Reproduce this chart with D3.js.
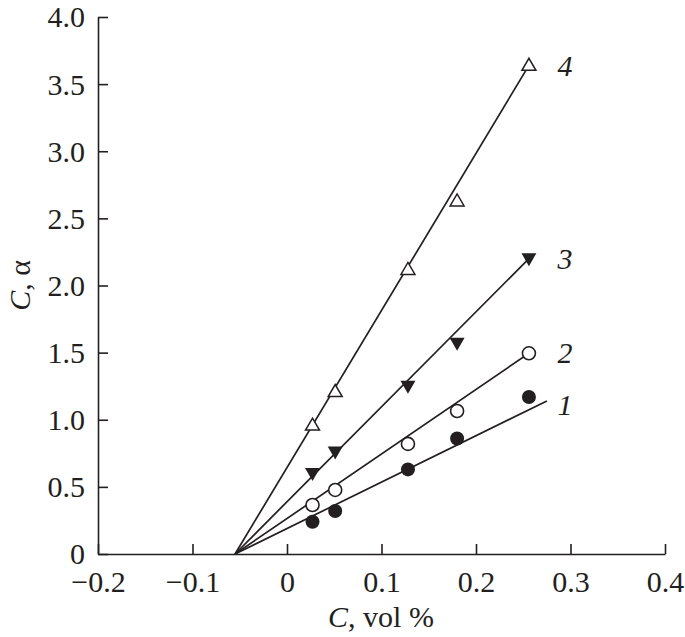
<!DOCTYPE html>
<html>
<head>
<meta charset="utf-8">
<script src="https://cdn.jsdelivr.net/npm/d3@7"></script>
<style>
  body { margin: 0; background: #fff; }
  text { font-family: "Liberation Serif", "DejaVu Serif", serif; fill: #231f20; }
</style>
</head>
<body>
<div id="chart"></div>
<script>
// concentrations, vol %
var conc = [0.027, 0.051, 0.128, 0.18, 0.256];
// series values (C, alpha)
var series1 = [0.24, 0.32, 0.63, 0.86, 1.17];
var series2 = [0.365, 0.477, 0.82, 1.065, 1.495];
var series3 = [0.60, 0.76, 1.25, 1.57, 2.20];
var series4 = [0.96, 1.21, 2.12, 2.63, 3.64];
var seriesLabels = ["1", "2", "3", "4"];
// fitted lines: common x-intercept, end point of each line
var xIntercept = -0.055;
var lineEndX = [0.275, 0.256, 0.256, 0.256];
var lineEndY = [1.14, 1.495, 2.20, 3.64];
var xTicks = [-0.2, -0.1, 0, 0.1, 0.2, 0.3, 0.4];
var yTicks = [0, 0.5, 1.0, 1.5, 2.0, 2.5, 3.0, 3.5, 4.0];

var w = 685, h = 637;
var margin = {top: 17, right: 20, bottom: 83, left: 98};
var ink = "#231f20";

var svg = d3.select("#chart").append("svg")
  .attr("width", w).attr("height", h);

var x = d3.scaleLinear().domain([-0.2, 0.4]).range([margin.left, 665]);
var y = d3.scaleLinear().domain([0, 4.0]).range([h - margin.bottom, margin.top]);

// axes, ticks pointing inward
var xAxis = d3.axisBottom(x).tickValues(xTicks).tickSize(-10).tickSizeOuter(0)
  .tickFormat(function(d){ return d === 0 ? "0" : d3.format(".1f")(d).replace("-", "\u2212"); });
var yAxis = d3.axisLeft(y).tickValues(yTicks).tickSize(-10).tickSizeOuter(0)
  .tickFormat(function(d){ return d === 0 ? "0" : d3.format(".1f")(d); });

var gx = svg.append("g").attr("transform", "translate(0," + y(0) + ")").call(xAxis);
var gy = svg.append("g").attr("transform", "translate(" + x(-0.2) + ",0)").call(yAxis);

[gx, gy].forEach(function(g){
  g.attr("font-family", null).attr("font-size", null);
  g.select(".domain").attr("stroke", ink).attr("stroke-width", 1.6);
  g.selectAll(".tick line").attr("stroke", ink).attr("stroke-width", 1.6);
  g.selectAll(".tick text").style("font-size", "30px").attr("fill", ink);
});
gx.selectAll(".tick text").attr("y", 18).attr("dy", "0.68em");
gy.selectAll(".tick text").attr("x", -13).attr("dy", "0.33em");

// axis titles
svg.append("text").attr("x", 381).attr("y", 627).attr("text-anchor", "middle").style("font-size", "30px")
  .html('<tspan font-style="italic">C</tspan>, vol %');
svg.append("text").attr("transform", "translate(30," + y(2.0) + ") rotate(-90)")
  .attr("text-anchor", "middle").style("font-size", "30px")
  .html('<tspan font-style="italic">C</tspan>, \u03b1');

// fitted lines
lineEndX.forEach(function(ex, i){
  svg.append("line")
    .attr("x1", x(xIntercept)).attr("y1", y(0))
    .attr("x2", x(ex)).attr("y2", y(lineEndY[i]))
    .attr("stroke", ink).attr("stroke-width", 1.7);
});

// markers
function pts(vals){ return vals.map(function(v, i){ return {c: conc[i], v: v}; }); }

svg.selectAll(".s1").data(pts(series1)).enter().append("circle")
  .attr("cx", function(d){ return x(d.c); }).attr("cy", function(d){ return y(d.v); })
  .attr("r", 7).attr("fill", ink);

svg.selectAll(".s2").data(pts(series2)).enter().append("circle")
  .attr("cx", function(d){ return x(d.c); }).attr("cy", function(d){ return y(d.v); })
  .attr("r", 6.5).attr("fill", "#fff").attr("stroke", ink).attr("stroke-width", 1.6);

var triDown = "M-7.5,-5.5L7.5,-5.5L0,7.5Z";
svg.selectAll(".s3").data(pts(series3)).enter().append("path")
  .attr("d", triDown)
  .attr("transform", function(d){ return "translate(" + x(d.c) + "," + y(d.v) + ")"; })
  .attr("fill", ink);

var triUp = "M-7,5L7,5L0,-7Z";
svg.selectAll(".s4").data(pts(series4)).enter().append("path")
  .attr("d", triUp)
  .attr("transform", function(d){ return "translate(" + x(d.c) + "," + y(d.v) + ")"; })
  .attr("fill", "#fff").attr("stroke", ink).attr("stroke-width", 1.5);

// series numbers
var labelY = [1.11, 1.50, 2.20, 3.64];
seriesLabels.forEach(function(l, i){
  svg.append("text").attr("x", 565).attr("y", y(labelY[i])).attr("dy", "0.35em")
    .attr("text-anchor", "middle").style("font-size", "30px").attr("font-style", "italic")
    .text(l);
});
</script>
</body>
</html>
